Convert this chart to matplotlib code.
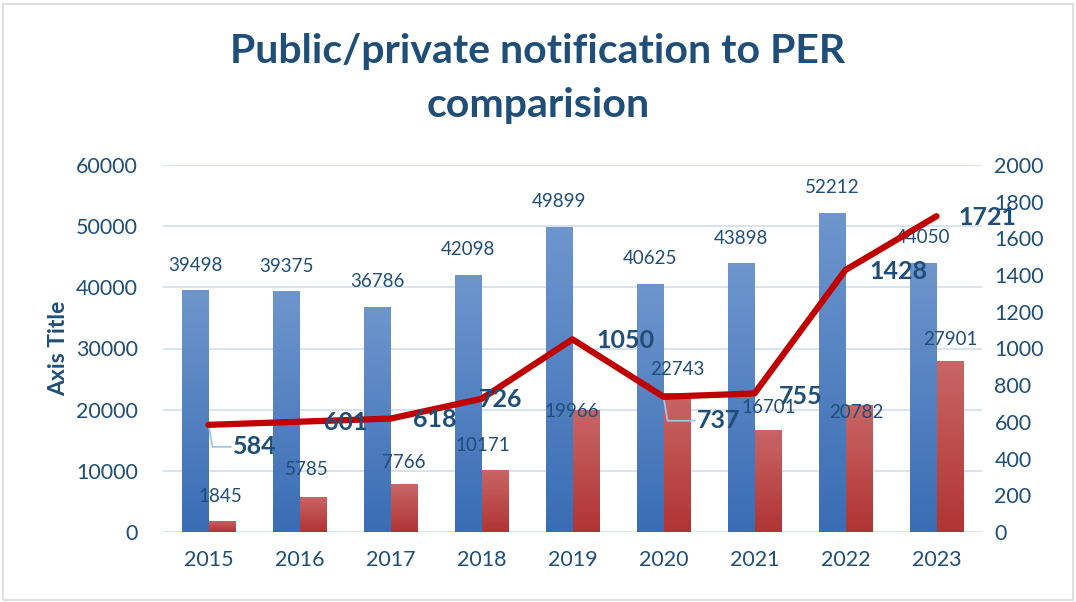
import matplotlib.pyplot as plt
import numpy as np
from matplotlib.colors import LinearSegmentedColormap
from matplotlib.patches import Rectangle

# data
years = ['2015', '2016', '2017', '2018', '2019', '2020', '2021', '2022', '2023']
public = [39498, 39375, 36786, 42098, 49899, 40625, 43898, 52212, 44050]
private = [1845, 5785, 7766, 10171, 19966, 22743, 16701, 20782, 27901]
per = [584, 601, 618, 726, 1050, 737, 755, 1428, 1721]

# label placement (pixels from the anchor), picked by eye
private_offsets = [(-1, 24), (-6, 27), (0, 22), (-12, 24), (-14, -2),
                   (1, 23), (1, 22), (-2, -8), (1, 22)]
per_offsets = [(46, -22), (46, -1), (44, -1), (19, -1), (53, -1),
               (55, -24), (46, -3), (53, -2), (51, -1)]
leaders = [0, 5]

text_col = '#1F4E79'
grid_col = '#D6DFEE'
plt.rcParams['font.family'] = ['Lato', 'DejaVu Sans']

blue_cmap = LinearSegmentedColormap.from_list('b', ['#3A6DB5', '#6E96CD'])
red_cmap = LinearSegmentedColormap.from_list('r', ['#B13434', '#C96666'])


def gradient_bars(ax, bars, cmap):
    grad = np.linspace(0, 1, 256).reshape(-1, 1)
    for b in bars:
        x0, y0 = b.get_x(), b.get_y()
        w, h = b.get_width(), b.get_height()
        b.set_facecolor('none')
        im = ax.imshow(grad, cmap=cmap, origin='lower', aspect='auto',
                       extent=(x0, x0 + w, y0, y0 + h), zorder=2)
        im.set_clip_path(b)


fig = plt.figure(figsize=(10.76, 6.02), dpi=100)
ax = fig.add_axes([163 / 1076, 1 - 532 / 602, (982 - 163) / 1076, (532 - 165) / 602])
ax2 = ax.twinx()

pos = np.arange(len(years))
w = 0.29
b1 = ax.bar(pos - w / 2, public, w, edgecolor='none', zorder=2)
b2 = ax.bar(pos + w / 2, private, w, edgecolor='none', zorder=2)
gradient_bars(ax, b1, blue_cmap)
gradient_bars(ax, b2, red_cmap)

ax.set_xlim(-0.5, len(years) - 0.5)
ax.set_ylim(0, 60000)
ax.set_yticks(np.arange(0, 60001, 10000))
ax.yaxis.grid(True, color=grid_col, lw=1.3, zorder=0)
ax.set_axisbelow(True)
ax.set_xticks(pos, labels=years)
for s in ax.spines.values():
    s.set_visible(False)
for s in ax2.spines.values():
    s.set_visible(False)
ax.tick_params(axis='both', length=0, labelsize=15.5, labelcolor=text_col)
ax.tick_params(axis='y', pad=18)
ax.tick_params(axis='x', pad=13)
ax.set_ylabel('Axis Title', fontsize=16.5, fontweight='bold', color=text_col, labelpad=5)

for b, v in zip(b1, public):
    ax.annotate(str(v), (b.get_x() + b.get_width() / 2, v), xytext=(0, 25),
                textcoords='offset pixels', ha='center', va='center',
                fontsize=13.5, color=text_col, zorder=5)
for b, v, off in zip(b2, private, private_offsets):
    ax.annotate(str(v), (b.get_x() + b.get_width() / 2, v), xytext=off,
                textcoords='offset pixels', ha='center', va='center',
                fontsize=13.5, color=text_col, zorder=5)

ax2.plot(pos, per, color='#C00000', lw=4.5, solid_capstyle='round', zorder=4)
ax2.set_ylim(0, 2000)
ax2.set_yticks(np.arange(0, 2001, 200))
ax2.tick_params(axis='y', length=0, labelsize=15.5, labelcolor=text_col, pad=9)

for i, (v, off) in enumerate(zip(per, per_offsets)):
    ax2.annotate(str(v), (pos[i], v), xytext=off, textcoords='offset pixels',
                 ha='center', va='center', fontsize=18, fontweight='bold',
                 color=text_col, zorder=6)
    if i in leaders:
        # little elbow line from the point to its moved label
        x0, y0 = ax2.transData.transform((pos[i], v))
        x1 = x0 + off[0] - 24
        y1 = y0 + off[1]
        pts = ax2.transData.inverted().transform([(x0, y0), (x0 + 4, y1), (x1, y1)])
        ax2.plot(pts[:, 0], pts[:, 1], color='#9DC3E6', lw=1.3, zorder=3)

fig.suptitle('Public/private notification to PER\ncomparision', x=538 / 1076,
             y=1 - 33 / 602, va='top', fontsize=29.5, fontweight='bold',
             color=text_col, linespacing=1.55)

fig.patches.append(Rectangle((0.003, 0.004), 0.994, 0.99, transform=fig.transFigure,
                             fill=False, edgecolor='#D9D9D9', lw=1.2))

fig.savefig('out.png', dpi=100)
